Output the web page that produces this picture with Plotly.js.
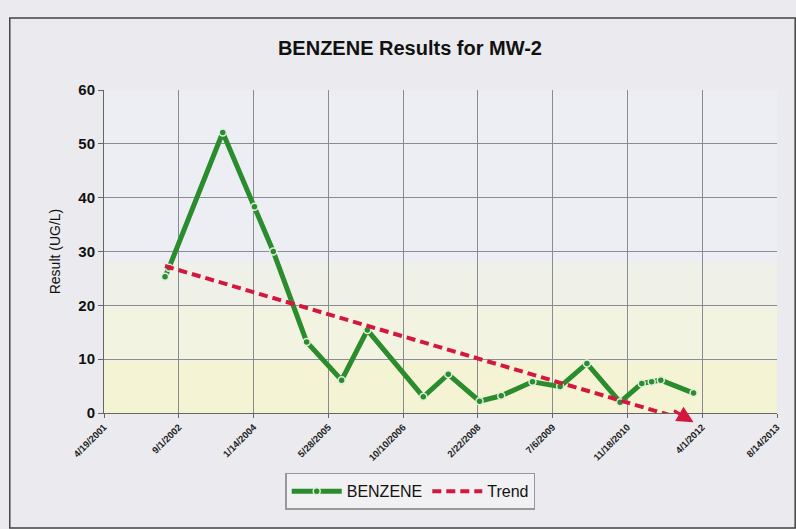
<!DOCTYPE html>
<html>
<head>
<meta charset="utf-8">
<script src="https://cdn.plot.ly/plotly-3.0.1.min.js"></script>
<style>html,body{margin:0;padding:0;background:#ebebef;}#chart{width:796px;height:529px;}</style>
</head>
<body>
<div id="chart"></div>
<script>
// Sample dates and BENZENE results (UG/L)
var sampleDates = ['2002-06-01','2002-06-28','2003-06-22','2004-01-20','2004-05-25','2005-01-03','2005-08-25','2006-02-13','2007-02-22','2007-08-08','2008-03-04','2008-07-27','2009-02-21','2009-08-25','2010-02-20','2010-09-30','2011-02-22','2011-04-29','2011-06-29','2012-02-03'];
var benzene = [25.3, 27.0, 52.1, 38.3, 30.0, 13.2, 6.1, 15.4, 3.0, 7.2, 2.2, 3.2, 5.8, 4.9, 9.2, 2.0, 5.5, 5.8, 6.1, 3.7];

// Trend line end points
var trendDates = ['2002-06-01','2012-02-03'];
var trendValues = [27.3, -1.7];

// Axis ticks
var xTickDates = ['2001-04-19','2002-09-01','2004-01-14','2005-05-28','2006-10-10','2008-02-22','2009-07-06','2010-11-18','2012-04-01','2013-08-14'];
var xTickLabels = ['4/19/2001','9/1/2002','1/14/2004','5/28/2005','10/10/2006','2/22/2008','7/6/2009','11/18/2010','4/1/2012','8/14/2013'];
var yTicks = [0,10,20,30,40,50,60];

var green = '#2b8c2e';
var red = '#d3173f';

var traces = [
  {
    x: sampleDates, y: benzene, name: 'BENZENE', type: 'scatter', mode: 'lines+markers',
    line: {color: green, width: 5},
    marker: {color: green, size: 7, line: {color: '#dfeedd', width: 1.5}}
  },
  {
    x: trendDates, y: trendValues, name: 'Trend', type: 'scatter', mode: 'lines',
    line: {color: red, width: 4, dash: '9px,5px'}
  }
];

var n = trendDates.length;
var layout = {
  width: 796, height: 529,
  margin: {l: 104, r: 19, t: 90, b: 116},
  paper_bgcolor: '#ebebef',
  plot_bgcolor: '#eceef3',
  font: {family: 'Liberation Sans, Arial, sans-serif', color: '#111'},
  title: {text: '<b>BENZENE Results for MW-2</b>', font: {size: 20, color: '#111'}, x: 0.515, xanchor: 'center', y: 0.91, yanchor: 'middle'},
  showlegend: true,
  legend: {orientation: 'h', x: 0.455, xanchor: 'center', y: -0.185, yanchor: 'top',
    bgcolor: '#f1f1f3', bordercolor: '#999', borderwidth: 1.5,
    font: {size: 16, color: '#111'}, itemwidth: 50, tracegroupgap: 20},
  xaxis: {
    type: 'date', range: ['2001-04-19','2013-08-14'],
    tickmode: 'array', tickvals: xTickDates, ticktext: xTickLabels,
    tickangle: -45, tickfont: {size: 9.5, color: '#222', weight: 'bold'},
    showgrid: true, gridcolor: '#8a8c94', gridwidth: 1,
    showline: true, linecolor: '#666', linewidth: 1,
    ticks: 'outside', ticklen: 4, tickcolor: '#666',
    zeroline: false
  },
  yaxis: {
    range: [0, 60], tickmode: 'array', tickvals: yTicks,
    tickfont: {size: 15, color: '#111', family: 'Liberation Sans, Arial, sans-serif', weight: 'bold'},
    title: {text: 'Result (UG/L)', font: {size: 14, color: '#111'}, standoff: 14},
    showgrid: true, gridcolor: '#8a8c94', gridwidth: 1,
    showline: true, linecolor: '#666', linewidth: 1,
    ticks: 'outside', ticklen: 5, tickcolor: '#666',
    zeroline: false
  },
  shapes: [
    {type: 'rect', xref: 'paper', yref: 'y', x0: 0, x1: 1, y0: 0, y1: 9.5, fillcolor: '#f4f4d4', line: {width: 0}, layer: 'below'},
    {type: 'rect', xref: 'paper', yref: 'y', x0: 0, x1: 1, y0: 9.5, y1: 20, fillcolor: '#f3f3e2', line: {width: 0}, layer: 'below'},
    {type: 'rect', xref: 'paper', yref: 'y', x0: 0, x1: 1, y0: 20, y1: 28, fillcolor: '#eff0e8', line: {width: 0}, layer: 'below'},
    {type: 'rect', xref: 'paper', yref: 'paper', x0: -0.14, x1: 1.027, y0: -0.356, y1: 1.223, fillcolor: 'rgba(0,0,0,0)', line: {color: '#444', width: 1.5}, layer: 'below'}
  ],
  annotations: [
    {x: trendDates[n-1], y: trendValues[n-1], xref: 'x', yref: 'y',
     ax: '2011-09-15', ay: 0.6, axref: 'x', ayref: 'y',
     showarrow: true, arrowhead: 2, arrowsize: 1.1, arrowwidth: 3, arrowcolor: red, text: ''}
  ]
};

Plotly.newPlot('chart', traces, layout, {displayModeBar: false, staticPlot: true});
</script>
</body>
</html>
